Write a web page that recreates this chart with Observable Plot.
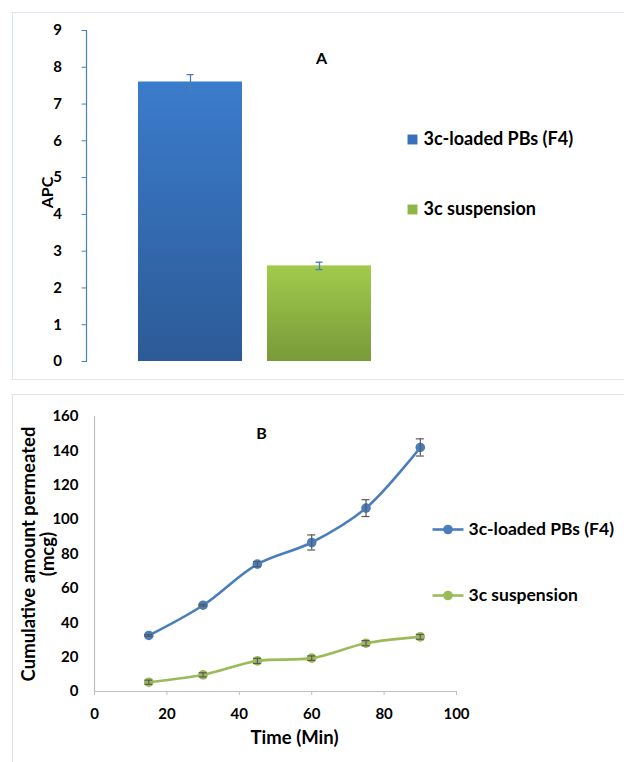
<!DOCTYPE html>
<html><head><meta charset="utf-8">
<script src="https://cdn.jsdelivr.net/npm/d3@7"></script>
<script src="https://cdn.jsdelivr.net/npm/@observablehq/plot@0.6"></script>
<style>
html,body{margin:0;padding:0;width:624px;height:762px;overflow:hidden;background:#fff;}
#panelA{position:absolute;left:12px;top:12px;width:640px;height:366px;border:1px solid #dbe4f0;}
#panelB{position:absolute;left:12px;top:394px;width:640px;height:400px;border:1px solid #e2e2e2;}
#panelA svg,#panelB svg{position:absolute;left:0;top:0;}
</style></head><body>
<div id="panelA"></div><div id="panelB"></div>
<script>
// ---- Panel A data ----
const barCategories = ["3c-loaded PBs (F4)", "3c suspension"];
const apcValues = [7.6, 2.6];
const apcErrors = [0.2, 0.1];
const apcTicks = [0, 1, 2, 3, 4, 5, 6, 7, 8, 9];

// ---- Panel B data ----
const seriesNames = ["3c-loaded PBs (F4)", "3c suspension"];
const times = [15, 30, 45, 60, 75, 90];
const f4Values = [32.6, 50.2, 74.1, 86.7, 106.7, 142.0];
const f4Errors = [0.5, 0.5, 1.5, 4.4, 4.9, 5.0];
const suspValues = [5.4, 9.7, 17.8, 19.4, 28.1, 31.8];
const suspErrors = [1.2, 1.2, 1.5, 1.3, 1.5, 1.4];
const timeTicks = [0, 20, 40, 60, 80, 100];
const amountTicks = [0, 20, 40, 60, 80, 100, 120, 140, 160];

const FONT = "Lato, 'Open Sans', sans-serif";
const barGrads = [["gradA0", "#3b7ccc", "#2c5a96"], ["gradA1", "#a2cb4c", "#789a39"]];
const legendSquareColors = ["#3a70b8", "#8db548"];
const lineColors = ["#4a7ebb", "#9bbb59"];

const defs = () => {
  const d = d3.create("svg:defs");
  barGrads.forEach(([id, top, bot]) => {
    const g = d.append("linearGradient").attr("id", id)
      .attr("x1", 0).attr("y1", 0).attr("x2", 0).attr("y2", 1);
    g.append("stop").attr("offset", "0%").attr("stop-color", top);
    g.append("stop").attr("offset", "100%").attr("stop-color", bot);
  });
  return d.node();
};

const barData = barCategories.map((c, i) => ({cat: c, apc: apcValues[i], err: apcErrors[i]}));

const chartA = Plot.plot({
  width: 611, height: 366,
  marginLeft: 73, marginRight: 200, marginTop: 17, marginBottom: 18,
  style: {fontFamily: FONT, fontSize: "15px", fontWeight: "bold", background: "transparent", overflow: "visible", color: "#000"},
  x: {domain: barCategories, paddingInner: 0.19, paddingOuter: 0.4, axis: null},
  y: {domain: [0, 9]},
  marks: [
    defs,
    ...barCategories.map((c, i) => Plot.barY(barData.filter(d => d.cat === c), {
      x: "cat", y: "apc", fill: `url(#${barGrads[i][0]})`
    })),
    Plot.ruleX(barData, {x: "cat", y1: d => d.apc - d.err, y2: d => d.apc + d.err, stroke: "#4a7ebb", strokeWidth: 1.3}),
    Plot.tickY(barData, {x: "cat", y: d => d.apc + d.err, stroke: "#4a7ebb", strokeWidth: 1.3, insetLeft: 48.5, insetRight: 48.5}),
    Plot.tickY(barData, {x: "cat", y: d => d.apc - d.err, stroke: "#4a7ebb", strokeWidth: 1.3, insetLeft: 48.5, insetRight: 48.5}),
    Plot.frame({anchor: "left", stroke: "#4a7ebb", strokeWidth: 1.2}),
    Plot.axisY(apcTicks, {tickSize: 4.5, tickPadding: 20, stroke: "#4a7ebb", fill: "#000", fontWeight: "bold", fontSize: 15, label: null}),
    Plot.text(["APC"], {frameAnchor: "left", rotate: -90, dx: -39, dy: -3.5, fontSize: 16, fontWeight: "bold", textAnchor: "middle", lineAnchor: "middle"}),
    Plot.text(["A"], {frameAnchor: "top-left", dx: 235, dy: 28, fontSize: 16, fontWeight: "bold", textAnchor: "middle", lineAnchor: "middle"}),
    ...barCategories.map((c, i) => Plot.dot([c], {frameAnchor: "top-left", dx: 326, dy: 109 + 70 * i, symbol: "square", r: 5.6, fill: legendSquareColors[i]})),
    ...barCategories.map((c, i) => Plot.text([c], {frameAnchor: "top-left", dx: 337, dy: 109 + 70 * i, fontSize: 18, fontWeight: "bold", textAnchor: "start", lineAnchor: "middle"}))
  ]
});
document.getElementById("panelA").appendChild(chartA);

const seriesData = [
  times.map((t, i) => ({t, v: f4Values[i], e: f4Errors[i]})),
  times.map((t, i) => ({t, v: suspValues[i], e: suspErrors[i]}))
];

const legendLineSymbol = {draw(ctx) { ctx.moveTo(-15.5, 0); ctx.lineTo(15.5, 0); }};

const chartB = Plot.plot({
  width: 611, height: 367,
  marginLeft: 81, marginRight: 168, marginTop: 21, marginBottom: 71,
  style: {fontFamily: FONT, fontSize: "15px", fontWeight: "bold", background: "transparent", overflow: "visible", color: "#000"},
  x: {domain: [0, 100]},
  y: {domain: [0, 160]},
  marks: [
    Plot.ruleX([0], {stroke: "#bfbfbf", strokeWidth: 1.2}),
    Plot.ruleY([0], {stroke: "#bfbfbf", strokeWidth: 1.2}),
    Plot.axisX(timeTicks, {tickSize: 4, tickPadding: 13, stroke: "#bfbfbf", fill: "#000", fontWeight: "bold", fontSize: 15, label: null}),
    Plot.axisY(amountTicks, {tickSize: 0, tickPadding: 16, fill: "#000", fontWeight: "bold", fontSize: 15, label: null}),
    ...seriesData.map((s, i) => Plot.line(s, {x: "t", y: "v", stroke: lineColors[i], strokeWidth: 2.6, curve: "catmull-rom"})),
    ...seriesData.map((s, i) => Plot.dot(s, {x: "t", y: "v", r: 4.8, fill: lineColors[i]})),
    ...seriesData.map(s => Plot.ruleX(s, {x: "t", y1: d => d.v - d.e, y2: d => d.v + d.e, stroke: "#595959", strokeWidth: 1.2})),
    ...seriesData.map(s => Plot.ruleY(s, {y: d => d.v + d.e, x1: "t", x2: "t", insetLeft: -4, insetRight: -4, stroke: "#595959", strokeWidth: 1.2})),
    ...seriesData.map(s => Plot.ruleY(s, {y: d => d.v - d.e, x1: "t", x2: "t", insetLeft: -4, insetRight: -4, stroke: "#595959", strokeWidth: 1.2})),
    Plot.text(["B"], {frameAnchor: "top-left", dx: 167, dy: 17, fontSize: 16, fontWeight: "bold", textAnchor: "middle", lineAnchor: "middle"}),
    Plot.text(["Time (Min)"], {frameAnchor: "top-left", dx: 200, dy: 322, fontSize: 18.5, fontWeight: "bold", textAnchor: "middle", lineAnchor: "middle"}),
    Plot.text(["Cumulative amount permeated\n(mcg)"], {frameAnchor: "left", rotate: -90, dx: -56.5, fontSize: 18.5, lineHeight: 1.05, fontWeight: "bold", textAnchor: "middle", lineAnchor: "middle"}),
    ...seriesNames.map((n, i) => Plot.dot([n], {frameAnchor: "top-left", dx: 353.5, dy: 113 + 66 * i, symbol: legendLineSymbol, r: 5, stroke: lineColors[i], strokeWidth: 2.6, fill: "none"})),
    ...seriesNames.map((n, i) => Plot.dot([n], {frameAnchor: "top-left", dx: 353.5, dy: 113 + 66 * i, r: 4.8, fill: lineColors[i]})),
    ...seriesNames.map((n, i) => Plot.text([n], {frameAnchor: "top-left", dx: 374, dy: 113 + 66 * i, fontSize: 17.5, fontWeight: "bold", textAnchor: "start", lineAnchor: "middle"}))
  ]
});
document.getElementById("panelB").appendChild(chartB);
</script></body></html>
